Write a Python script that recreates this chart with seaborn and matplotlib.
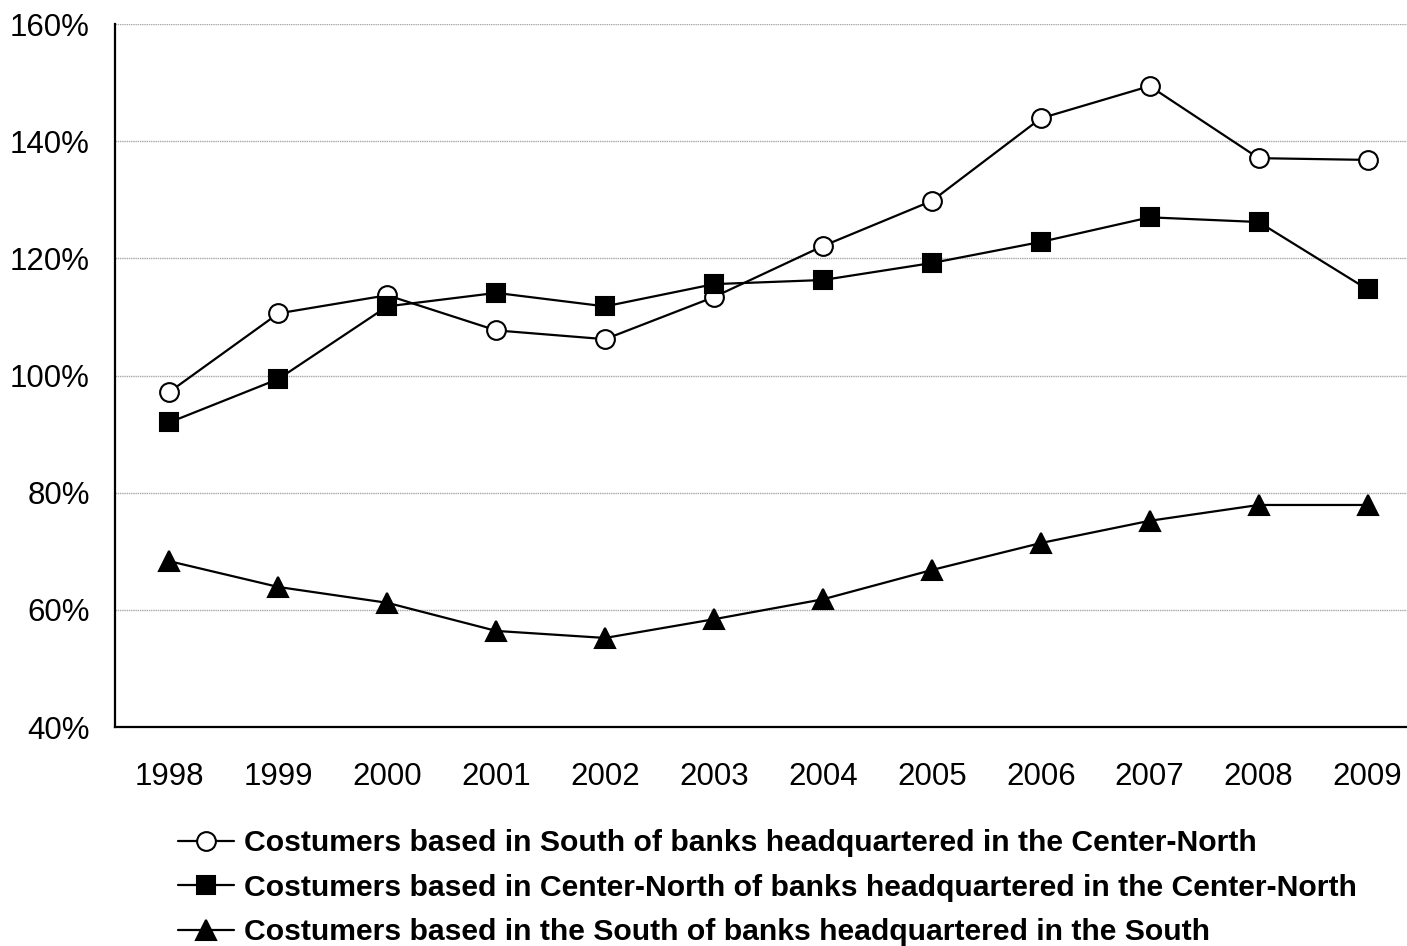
import matplotlib
matplotlib.use("Agg")
import matplotlib.pyplot as plt
import seaborn as sns
import pandas as pd
import numpy as np

years = ["1998", "1999", "2000", "2001", "2002", "2003",
         "2004", "2005", "2006", "2007", "2008", "2009"]

south_cust_cn_banks = [97.2, 110.6, 113.7, 107.7, 106.2, 113.4,
                       122.1, 129.8, 143.9, 149.4, 137.1, 136.8]
cn_cust_cn_banks = [92.0, 99.4, 111.8, 114.1, 111.8, 115.6,
                    116.3, 119.2, 122.8, 127.0, 126.2, 114.7]
south_cust_south_banks = [68.3, 63.9, 61.2, 56.4, 55.2, 58.4,
                          61.8, 66.8, 71.4, 75.2, 77.9, 77.9]

labels = [
    "Costumers based in South of banks headquartered in the Center-North",
    "Costumers based in Center-North of banks headquartered in the Center-North",
    "Costumers based in the South of banks headquartered in the South",
]

sns.set_style("white")
plt.rcParams["font.family"] = ["Liberation Sans", "DejaVu Sans"]
plt.rcParams["text.color"] = "black"
plt.rcParams["xtick.color"] = "black"
plt.rcParams["ytick.color"] = "black"

fig = plt.figure(figsize=(14.07, 9.46), dpi=100)
ax = fig.add_axes([115 / 1407, 1 - 727 / 946, 1307 / 1407, 703 / 946])

x = np.arange(len(years))
series = [
    (south_cust_cn_banks, dict(marker="o", markerfacecolor="white", markersize=13.5)),
    (cn_cust_cn_banks, dict(marker="s", markerfacecolor="black", markersize=13)),
    (south_cust_south_banks, dict(marker="^", markerfacecolor="black", markersize=14.5)),
]
for (vals, mk), lab in zip(series, labels):
    df = pd.DataFrame({"x": x, "y": vals})
    sns.lineplot(data=df, x="x", y="y", ax=ax, color="black", linewidth=1.6,
                 markeredgecolor="black", markeredgewidth=1.5, label=lab, **mk)

ax.set_xlim(-0.5, len(years) - 0.5)
ax.set_ylim(40, 160)
ax.set_yticks(np.arange(40, 161, 20))
ax.set_yticklabels([f"{v}%" for v in range(40, 161, 20)], fontsize=22.5)
ax.yaxis.grid(True, color="#a8a8a8", linewidth=1.0, linestyle=(0, (1, 0.6)))
ax.set_axisbelow(True)

# tick marks between categories, labels centred on categories
ax.set_xticks(np.arange(-0.5, len(years), 1.0))
ax.set_xticklabels([])
ax.set_xticks(x, minor=True)
ax.set_xticklabels(years, minor=True, fontsize=22.5)
ax.tick_params(axis="x", which="major", length=11, width=1.3, direction="out", color="black")
ax.tick_params(axis="x", which="minor", length=0, pad=25)
ax.tick_params(axis="y", length=10, width=1.3, direction="out", color="black", pad=8)

for s in ["top", "right"]:
    ax.spines[s].set_visible(False)
for s in ["left", "bottom"]:
    ax.spines[s].set_color("black")
    ax.spines[s].set_linewidth(1.6)

ax.set_xlabel("")
ax.set_ylabel("")

handles, labs = ax.get_legend_handles_labels()
ax.get_legend().remove()
fig.legend(handles, labs, loc="upper left", bbox_to_anchor=(166 / 1407, 1 - 817 / 946),
           frameon=False, prop={"weight": "bold", "size": 21.7},
           handlelength=1.85, handletextpad=0.35, labelspacing=0.55, borderaxespad=0)

fig.savefig("out.png", dpi=100)
